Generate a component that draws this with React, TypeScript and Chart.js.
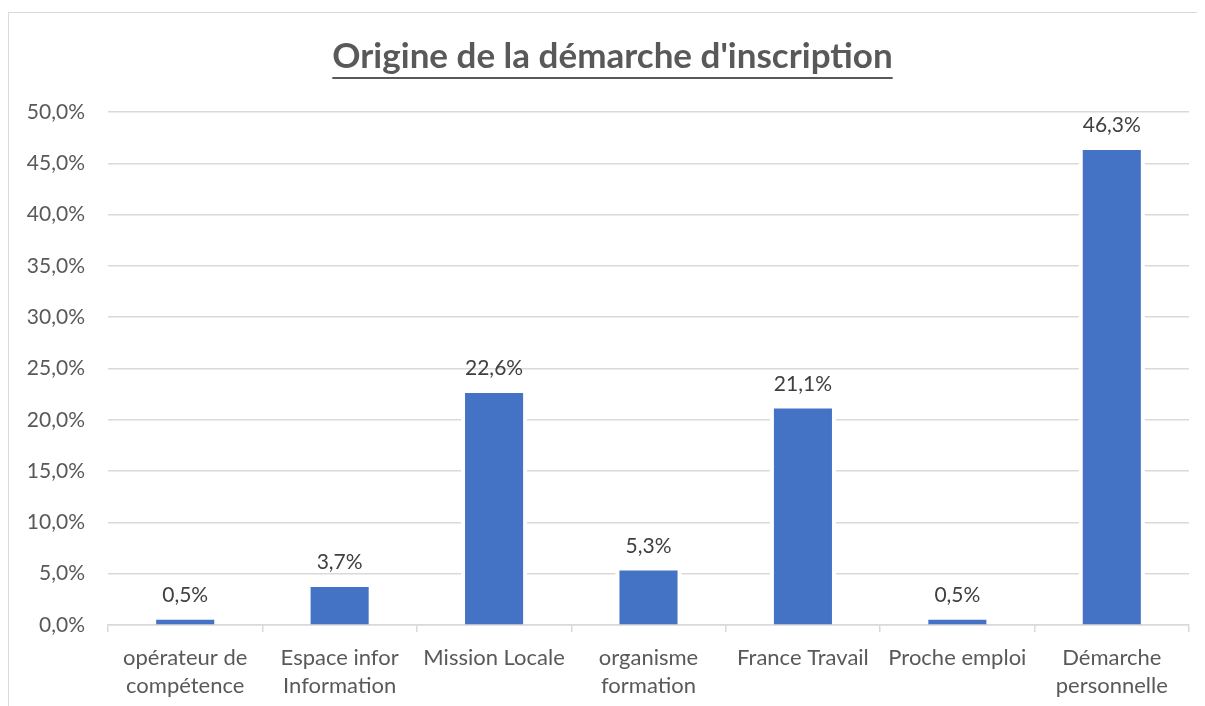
import React, { useEffect, useRef } from "react";
import { Chart, registerables } from "chart.js";

Chart.register(...registerables);

const TITLE = "Origine de la démarche d'inscription";
const categories: string[][] = [
  ["opérateur de", "compétence"],
  ["Espace infor", "Information"],
  ["Mission Locale"],
  ["organisme", "formation"],
  ["France Travail"],
  ["Proche emploi"],
  ["Démarche", "personnelle"],
];
const values: number[] = [0.5, 3.7, 22.6, 5.3, 21.1, 0.5, 46.3];
const yMin = 0;
const yMax = 50;
const yStep = 5;

const FONT = "Lato, 'Open Sans', sans-serif";
const fmt = (v: number) => v.toFixed(1).replace(".", ",") + "%";

const haloPlugin = {
  id: "halo",
  beforeDatasetsDraw(chart: any) {
    const ctx = chart.ctx;
    const meta = chart.getDatasetMeta(0);
    ctx.save();
    ctx.fillStyle = "#ffffff";
    meta.data.forEach((bar: any) => {
      const w = bar.width;
      const top = bar.y - 4;
      const bottom = bar.base - 1.5;
      if (bottom > top) ctx.fillRect(bar.x - w / 2 - 4, top, w + 8, bottom - top);
    });
    ctx.restore();
  },
};

const labelPlugin = {
  id: "valueLabels",
  afterDatasetsDraw(chart: any) {
    const ctx = chart.ctx;
    const meta = chart.getDatasetMeta(0);
    ctx.save();
    ctx.fillStyle = "#404040";
    ctx.font = `21px ${FONT}`;
    ctx.textAlign = "center";
    ctx.textBaseline = "alphabetic";
    meta.data.forEach((bar: any, i: number) => {
      ctx.fillText(fmt(values[i]), bar.x, bar.y - 18);
    });
    ctx.restore();
  },
};

const titlePlugin = {
  id: "ulTitle",
  afterDraw(chart: any) {
    const ctx = chart.ctx;
    ctx.save();
    ctx.fillStyle = "#595959";
    ctx.font = `bold 35px ${FONT}`;
    ctx.textAlign = "center";
    ctx.textBaseline = "alphabetic";
    const cx = 603.5;
    const by = 55;
    ctx.fillText(TITLE, cx, by);
    const w = ctx.measureText(TITLE).width;
    ctx.fillRect(cx - w / 2, by + 9, w, 2);
    ctx.restore();
  },
};

export default function App() {
  const ref = useRef<HTMLCanvasElement>(null);
  useEffect(() => {
    document.documentElement.style.overflow = "hidden";
    document.body.style.overflow = "hidden";
    const chart = new Chart(ref.current!, {
      type: "bar",
      data: {
        labels: categories,
        datasets: [
          {
            data: values,
            backgroundColor: "#4472C4",
            barPercentage: 0.376,
            categoryPercentage: 1,
          },
        ],
      },
      options: {
        responsive: false,
        animation: false,
        devicePixelRatio: 1,
        layout: { padding: { left: 0, right: 16, top: 99, bottom: 0 } },
        plugins: {
          legend: { display: false },
          tooltip: { enabled: false },
          title: { display: false },
        },
        scales: {
          x: {
            offset: true,
            grid: {
              offset: true,
              drawOnChartArea: false,
              drawTicks: true,
              tickLength: 7,
              color: "#d9d9d9",
              lineWidth: 1.5,
            },
            border: { display: true, color: "#d9d9d9", width: 1.5 },
            ticks: {
              color: "#595959",
              font: { family: FONT, size: 22, lineHeight: 1.27 },
              padding: 12,
              maxRotation: 0,
              autoSkip: false,
            },
            afterFit: (s: any) => {
              s.height = 81;
            },
          },
          y: {
            min: yMin,
            max: yMax,
            grid: { color: "#d9d9d9", lineWidth: 1.5, drawTicks: false },
            border: { display: false },
            ticks: {
              stepSize: yStep,
              color: "#595959",
              font: { family: FONT, size: 21 },
              padding: 23,
              callback: (v: any) => fmt(Number(v)),
            },
            afterFit: (s: any) => {
              s.width = 99;
            },
          },
        },
      },
      plugins: [haloPlugin, labelPlugin, titlePlugin],
    });
    return () => chart.destroy();
  }, []);
  return (
    <div style={{ width: 1197, height: 698, overflow: "hidden" }}>
      <div
        style={{
          marginTop: 4,
          borderTop: "1px solid #d9d9d9",
          borderLeft: "1px solid #d9d9d9",
          width: 1196,
          height: 693,
        }}
      >
        <canvas ref={ref} width={1196} height={693} style={{ display: "block" }} />
      </div>
    </div>
  );
}
